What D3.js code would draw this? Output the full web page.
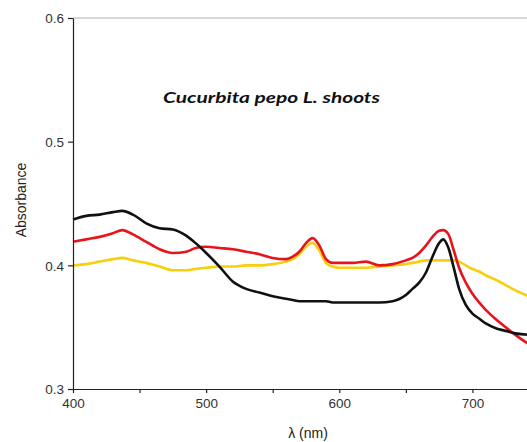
<!DOCTYPE html>
<html><head><meta charset="utf-8">
<script src="https://cdn.jsdelivr.net/npm/d3@7"></script>
<style>body{margin:0;background:#fff}svg{display:block}</style>
</head><body>
<script>
const wavelengths=[400,410,420,430,437,445,455,465,475,485,492,500,510,520,530,540,550,560,565,570,575,580,585,590,595,600,610,620,630,640,650,655,660,665,670,675,678,682,686,690,695,700,705,710,718,725,732,740,750];
const blackSeries=[.437,.440,.441,.443,.444,.441,.434,.430,.429,.424,.418,.410,.399,.387,.381,.378,.375,.373,.372,.371,.371,.371,.371,.371,.370,.370,.370,.370,.370,.371,.376,.381,.386,.394,.407,.418,.421,.414,.398,.381,.368,.361,.357,.353,.349,.347,.345,.344,.342];
const redSeries=[.419,.421,.423,.426,.4285,.425,.419,.413,.410,.411,.414,.415,.414,.413,.411,.409,.406,.405,.407,.411,.418,.422,.416,.405,.402,.402,.402,.403,.400,.401,.404,.406,.410,.416,.423,.428,.4285,.425,.412,.398,.386,.377,.370,.364,.356,.350,.344,.338,.333];
const yellowSeries=[.400,.401,.403,.405,.406,.404,.402,.399,.396,.396,.397,.398,.399,.399,.400,.400,.401,.403,.405,.409,.415,.418,.412,.402,.399,.398,.398,.398,.399,.400,.401,.402,.403,.404,.404,.404,.404,.404,.404,.403,.400,.397,.395,.392,.388,.384,.380,.376,.371];
const xTicks=[400,450,500,550,600,650,700,750];
const xTickLabels=["400","","500","","600","","700",""];
const yTicks=[0.3,0.4,0.5,0.6];
const series=[{name:"black",values:blackSeries,color:"#111"},{name:"red",values:redSeries,color:"#e8141c"},{name:"yellow",values:yellowSeries,color:"#f7cf0a"}];

const W=527,H=442;
const svg=d3.select("body").append("svg").attr("width",W).attr("height",H);
const x=d3.scaleLinear().domain([400,750]).range([73,539]);
const y=d3.scaleLinear().domain([0.3,0.6]).range([389,18]);

svg.append("line").attr("x1",73).attr("x2",W).attr("y1",y(0.6)).attr("y2",y(0.6)).attr("stroke","#999").attr("stroke-width",0.8);

const line=d3.line().x((d,i)=>x(wavelengths[i])).y(d=>y(d)).curve(d3.curveMonotoneX);
[series[2],series[1],series[0]].forEach(s=>{
  svg.append("path").datum(s.values).attr("d",line).attr("fill","none").attr("stroke",s.color).attr("stroke-width",2.6).attr("stroke-linejoin","round");
});

const xa=svg.append("g").attr("transform",`translate(0,${y(0.3)})`)
 .call(d3.axisBottom(x).tickValues(xTicks).tickFormat((d,i)=>xTickLabels[i]).tickSize(4).tickSizeOuter(0));
const ya=svg.append("g").attr("transform",`translate(${x(400)},0)`)
 .call(d3.axisLeft(y).tickValues(yTicks).tickFormat(d3.format(".1f")).tickSize(5).tickSizeOuter(0));
[xa,ya].forEach(a=>{
  a.selectAll("path,line").attr("stroke","#222").attr("stroke-width",1.2);
  a.selectAll("text").attr("font-family","Liberation Sans, Arial, sans-serif").attr("font-size",13.5).attr("fill","#333");
});
xa.selectAll("text").attr("dy","0.9em");
ya.selectAll("text").attr("dx","-1").attr("dy","0.35em");

svg.append("text").attr("x",308).attr("y",438).attr("text-anchor","middle")
 .attr("font-family","Liberation Sans, Arial, sans-serif").attr("font-size",14).attr("fill","#222").text("λ (nm)");
svg.append("text").attr("transform","translate(26,200) rotate(-90)").attr("text-anchor","middle")
 .attr("font-family","Liberation Sans, Arial, sans-serif").attr("font-size",14).attr("fill","#222").text("Absorbance");
svg.append("text").attr("x",163).attr("y",103)
 .attr("font-family","Lato, sans-serif").attr("font-size",15).attr("font-weight","bold").attr("font-style","italic").attr("fill","#111")
 .attr("textLength",217).attr("lengthAdjust","spacingAndGlyphs").text("Cucurbita pepo L. shoots");
</script>
</body></html>
